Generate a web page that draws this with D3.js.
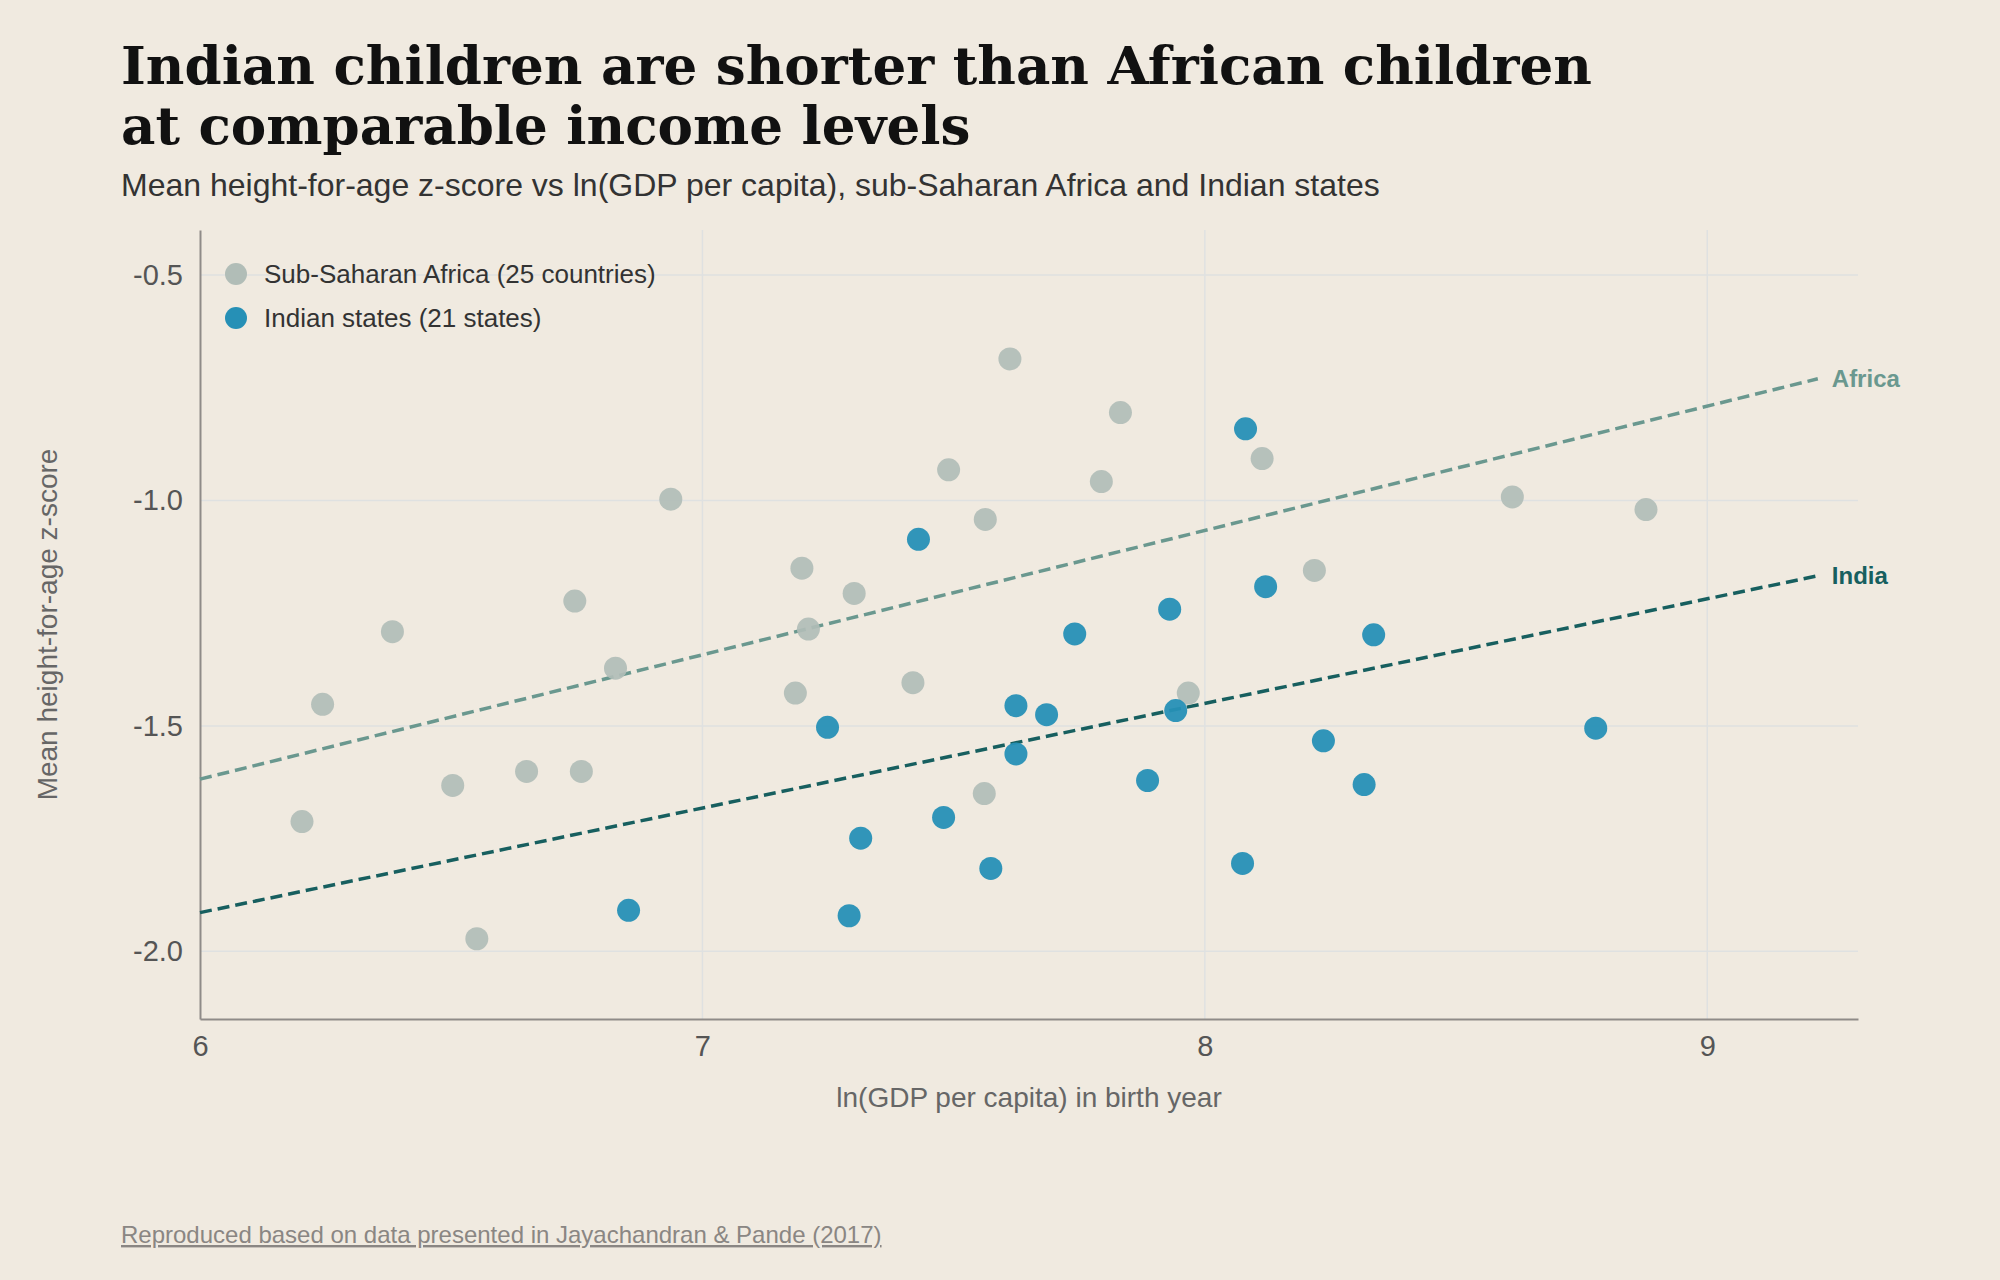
<!DOCTYPE html>
<html>
<head>
<meta charset="utf-8">
<script src="https://cdn.jsdelivr.net/npm/d3@7"></script>
<style>
    html, body { margin: 0; padding: 0; background: #f0eae0; }
    svg { display: block; }
</style>
</head>
<body>
<svg id="chart" width="2000" height="1280"></svg>
<script>
// sub-Saharan Africa countries: ln(GDP per capita), mean height-for-age z-score
var africaX = [6.203, 6.244, 6.383, 6.503, 6.551, 6.650, 6.746, 6.759, 6.827, 6.937,
               7.185, 7.198, 7.211, 7.302, 7.419, 7.490, 7.561, 7.563, 7.612, 7.794,
               7.832, 7.967, 8.114, 8.218, 8.612, 8.878];
var africaY = [-1.712, -1.452, -1.291, -1.632, -1.972, -1.601, -1.223, -1.601, -1.372, -0.997,
               -1.427, -1.150, -1.285, -1.206, -1.404, -0.932, -1.650, -1.042, -0.686, -0.958,
               -0.805, -1.427, -0.907, -1.155, -0.992, -1.020];

// Indian states
var indiaX = [6.853, 7.249, 7.292, 7.315, 7.430, 7.480, 7.574, 7.624, 7.624, 7.685,
              7.741, 7.886, 7.930, 7.942, 8.075, 8.081, 8.121, 8.236, 8.317, 8.336, 8.778];
var indiaY = [-1.909, -1.503, -1.921, -1.749, -1.086, -1.703, -1.816, -1.455, -1.562, -1.475,
              -1.296, -1.621, -1.241, -1.466, -1.805, -0.841, -1.191, -1.533, -1.630, -1.298, -1.505];

// fitted lines, start and end
var trendX = [6, 9.22];
var africaTrend = [-1.618, -0.730];
var indiaTrend = [-1.914, -1.167];

var xTicks = [6, 7, 8, 9];
var yTicks = [-0.5, -1.0, -1.5, -2.0];

var SANS = "'Liberation Sans', Arial, Helvetica, sans-serif";

var margin = { top: 230, right: 142, bottom: 261, left: 200 },
    width = 2000 - margin.left - margin.right,
    height = 1280 - margin.top - margin.bottom;

var svg = d3.select("#chart");
svg.append("rect").attr("width", 2000).attr("height", 1280).attr("fill", "#f0eae0");

// title, sized so the first line spans the same width as the original headline
var title = svg.append("g").attr("font-family", "'DejaVu Serif', 'Liberation Serif', serif")
    .attr("font-weight", "bold").attr("fill", "#111");
var t1 = title.append("text").attr("x", 121).attr("y", 84).attr("font-size", 54)
    .text("Indian children are shorter than African children");
var fit = 54 * 1471 / t1.node().getComputedTextLength();
t1.attr("font-size", fit);
title.append("text").attr("x", 121).attr("y", 144).attr("font-size", fit)
    .text("at comparable income levels");

svg.append("text")
    .attr("x", 121).attr("y", 196)
    .attr("font-family", SANS).attr("font-size", 32).attr("fill", "#333")
    .text("Mean height-for-age z-score vs ln(GDP per capita), sub-Saharan Africa and Indian states");

var g = svg.append("g").attr("transform", "translate(" + margin.left + "," + margin.top + ")");

var x = d3.scaleLinear().domain([6, 9.3]).range([0, width]);
var y = d3.scaleLinear().domain([-2.15, -0.4]).range([height, 0]);

// grid
g.append("g").selectAll("line").data(yTicks).join("line")
    .attr("x1", 0).attr("x2", width)
    .attr("y1", function(d) { return y(d); }).attr("y2", function(d) { return y(d); })
    .attr("stroke", "#dfe1e1").attr("stroke-width", 1.5);
g.append("g").selectAll("line").data(xTicks.slice(1)).join("line")
    .attr("x1", function(d) { return x(d); }).attr("x2", function(d) { return x(d); })
    .attr("y1", 0).attr("y2", height)
    .attr("stroke", "#dfe1e1").attr("stroke-width", 1.5);

// axes
var xAxis = g.append("g")
    .attr("transform", "translate(0," + height + ")")
    .call(d3.axisBottom(x).tickValues(xTicks).tickSize(0).tickPadding(16).tickFormat(d3.format("d")));
var yAxis = g.append("g")
    .call(d3.axisLeft(y).tickValues(yTicks).tickSize(0).tickPadding(17).tickFormat(d3.format(".1f")));

[xAxis, yAxis].forEach(function(a) {
    a.select(".domain").attr("stroke", "#8f8b88").attr("stroke-width", 2);
    a.selectAll("text").attr("font-family", SANS).attr("font-size", 29).attr("fill", "#555");
});
xAxis.selectAll("text").attr("dy", "0.71em");
yAxis.selectAll("text").text(function(d) { return d.toFixed(1); });

g.append("text")
    .attr("x", width / 2).attr("y", 877)
    .attr("text-anchor", "middle")
    .attr("font-family", SANS).attr("font-size", 28).attr("fill", "#666")
    .text("ln(GDP per capita) in birth year");

svg.append("text")
    .attr("transform", "translate(47," + (margin.top + height / 2) + ") rotate(-90)")
    .attr("text-anchor", "middle").attr("dominant-baseline", "central")
    .attr("font-family", SANS).attr("font-size", 28).attr("fill", "#666")
    .text("Mean height-for-age z-score");

// trend lines
var line = d3.line()
    .x(function(d) { return x(d[0]); })
    .y(function(d) { return y(d[1]); });

var trends = [
    { name: "Africa", ys: africaTrend, color: "#6a988f" },
    { name: "India", ys: indiaTrend, color: "#175f5f" }
];

trends.forEach(function(t) {
    var pts = trendX.map(function(v, i) { return [v, t.ys[i]]; });
    g.append("path")
        .datum(pts)
        .attr("fill", "none")
        .attr("stroke", t.color)
        .attr("stroke-width", 3.5)
        .attr("stroke-dasharray", "12,6")
        .attr("d", line);
    g.append("text")
        .attr("x", x(trendX[1]) + 14)
        .attr("y", y(t.ys[1]))
        .attr("dominant-baseline", "central")
        .attr("font-family", SANS).attr("font-weight", "bold").attr("font-size", 24)
        .attr("fill", t.color)
        .text(t.name);
});

// points
var africa = africaX.map(function(v, i) { return [v, africaY[i]]; });
var india = indiaX.map(function(v, i) { return [v, indiaY[i]]; });

g.append("g").selectAll("circle").data(africa).join("circle")
    .attr("cx", function(d) { return x(d[0]); })
    .attr("cy", function(d) { return y(d[1]); })
    .attr("r", 11.5)
    .attr("fill", "#b1bdb7").attr("fill-opacity", 0.92);

g.append("g").selectAll("circle").data(india).join("circle")
    .attr("cx", function(d) { return x(d[0]); })
    .attr("cy", function(d) { return y(d[1]); })
    .attr("r", 11.5)
    .attr("fill", "#2690b6").attr("fill-opacity", 0.95);

// legend
var legendItems = [
    { label: "Sub-Saharan Africa (25 countries)", color: "#b1bdb7" },
    { label: "Indian states (21 states)", color: "#2690b6" }
];
var legend = svg.append("g").attr("transform", "translate(236,274)");
legendItems.forEach(function(d, i) {
    legend.append("circle").attr("cx", 0).attr("cy", i * 44).attr("r", 11).attr("fill", d.color);
    legend.append("text")
        .attr("x", 28).attr("y", i * 44)
        .attr("dominant-baseline", "central")
        .attr("font-family", SANS).attr("font-size", 26).attr("fill", "#333")
        .text(d.label);
});

// source note
svg.append("text")
    .attr("x", 121).attr("y", 1243)
    .attr("font-family", SANS).attr("font-size", 24).attr("fill", "#8a8683")
    .attr("text-decoration", "underline")
    .text("Reproduced based on data presented in Jayachandran & Pande (2017)");
</script>
</body>
</html>
